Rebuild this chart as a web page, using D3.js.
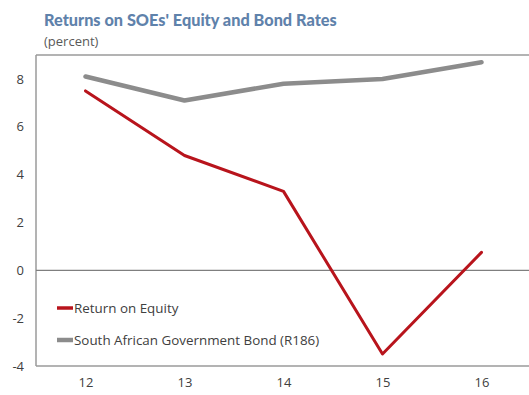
<!DOCTYPE html>
<html><head><meta charset="utf-8">
<script src="https://cdn.jsdelivr.net/npm/d3@7"></script>
<style>body{margin:0;background:#fff;}svg{display:block;}</style>
</head><body>
<svg id="c" width="529" height="395"></svg>
<script>
const years = ["12","13","14","15","16"];
const returnOnEquity = [7.5, 4.8, 3.3, -3.5, 0.75];
const bondR186 = [8.1, 7.1, 7.8, 8.0, 8.7];
const yTicks = [-4,-2,0,2,4,6,8];
const seriesNames = ["Return on Equity","South African Government Bond (R186)"];

(function(){
const svg = d3.select("#c");
const font = "'Open Sans', 'Noto Sans', sans-serif";
const pL = 36, pR = 531, pT = 55, pB = 366;
const x = d3.scalePoint().domain(years).range([pL, pR]).padding(0.5);
const y = d3.scaleLinear().domain([-4, 9]).range([pB, pT]);

const title = svg.append("text").attr("x", 44).attr("y", 26).text("Returns on SOEs' Equity and Bond Rates")
  .attr("font-family", "Lato, 'Open Sans', sans-serif").attr("font-weight", "900").attr("font-size", 17).attr("fill", "#5f82ab");
const tw = title.node().getComputedTextLength();
title.attr("font-size", 17 * 293 / tw);
svg.append("text").attr("x", 44).attr("y", 46).text("(percent)")
  .attr("font-family", font).attr("font-size", 13).attr("fill", "#595959");

svg.append("line").attr("x1", pL).attr("x2", 529).attr("y1", pT).attr("y2", pT).attr("stroke", "#9a9a9a").attr("stroke-width", 1.5);
svg.append("line").attr("x1", pL).attr("x2", pL).attr("y1", pT).attr("y2", pB).attr("stroke", "#9a9a9a").attr("stroke-width", 1.5);

const yAxis = svg.append("g").attr("transform", `translate(${pL},0)`)
  .call(d3.axisLeft(y).tickValues(yTicks).tickSize(0).tickPadding(12).tickFormat(d => String(d)));
yAxis.select(".domain").remove();
yAxis.selectAll("text").attr("font-family", font).attr("font-size", 13).attr("fill", "#404040");

const xAxis = svg.append("g").attr("transform", `translate(0,${pB})`)
  .call(d3.axisBottom(x).tickSize(0).tickPadding(12));
xAxis.select(".domain").attr("d", `M${pL},0H529`).attr("stroke", "#9a9a9a").attr("stroke-width", 1.5);
xAxis.selectAll("text").attr("font-family", font).attr("font-size", 13).attr("fill", "#404040");

svg.append("line").attr("x1", pL).attr("x2", 529).attr("y1", y(0)).attr("y2", y(0)).attr("stroke", "#7f7f7f").attr("stroke-width", 1.2);

const line = d3.line().x((d, i) => x(years[i])).y(d => y(d));
svg.append("path").datum(bondR186).attr("d", line).attr("fill", "none").attr("stroke", "#8c8c8c").attr("stroke-width", 4.5).attr("stroke-linejoin", "round").attr("stroke-linecap", "round");
svg.append("path").datum(returnOnEquity).attr("d", line).attr("fill", "none").attr("stroke", "#b8141c").attr("stroke-width", 3).attr("stroke-linejoin", "round").attr("stroke-linecap", "round");

const legColors = ["#b8141c", "#8c8c8c"];
const legW = [3.5, 4.5];
seriesNames.forEach((n, i) => {
  const ly = 308 + i * 32;
  svg.append("line").attr("x1", 57).attr("x2", 73).attr("y1", ly).attr("y2", ly).attr("stroke", legColors[i]).attr("stroke-width", legW[i]);
  svg.append("text").attr("x", 74).attr("y", ly + 5).text(n).attr("font-family", font).attr("font-size", 13.4).attr("fill", "#404040");
});
})();
</script>
</body></html>
